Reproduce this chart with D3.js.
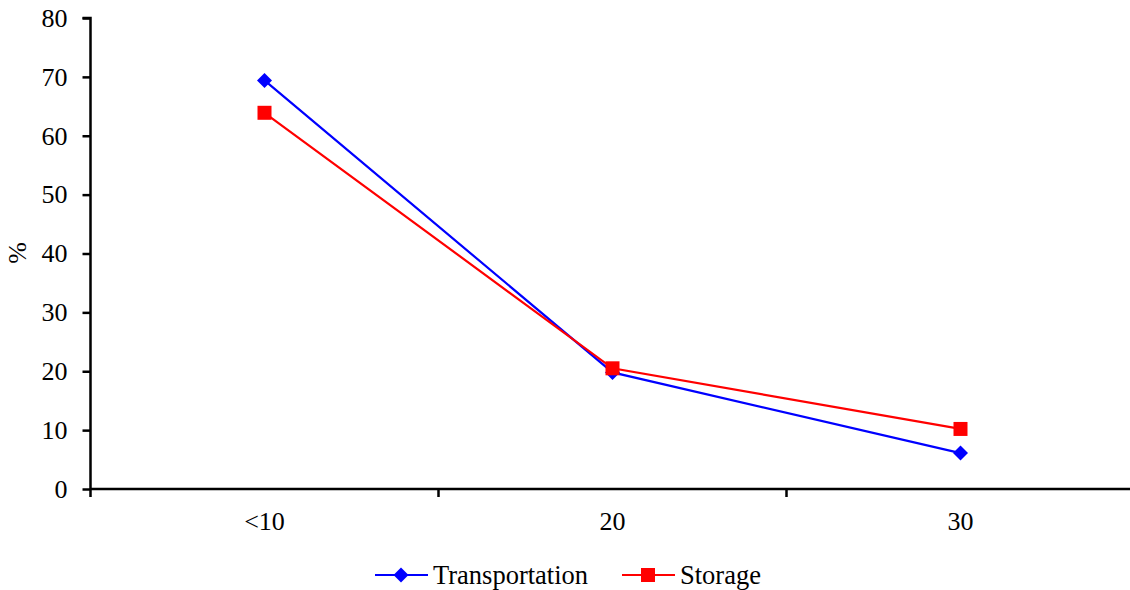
<!DOCTYPE html>
<html><head><meta charset="utf-8">
<script src="https://cdn.jsdelivr.net/npm/d3@7"></script>
<style>body{margin:0;background:#fff}svg{display:block}svg text{font-family:"Liberation Serif","Times New Roman",serif !important;fill:#000}</style>
</head><body><svg id="c" width="1130" height="590" style="font-family:'Liberation Serif',serif"></svg>
<script>
const categories = ["<10", "20", "30"];
const transportation = [69.4, 19.8, 6.1];
const storage = [63.9, 20.5, 10.2];
const yTicks = [0, 10, 20, 30, 40, 50, 60, 70, 80];
const seriesNames = ["Transportation", "Storage"];

const FS = 26;
const FF = "Liberation Serif";
const svg = d3.select("#c");
const x = d3.scaleBand().domain(categories).range([90.5, 1134.5]);
const y = d3.scaleLinear().domain([0, 80]).range([489, 18]);

// Y axis
const ya = svg.append("g").attr("transform", "translate(90.5,0)")
  .call(d3.axisLeft(y).tickValues(yTicks).tickSize(8).tickPadding(15));
ya.attr("font-size", FS).attr("font-family", FF);
ya.select(".domain").attr("stroke", "#000").attr("stroke-width", 2.5).attr("d", `M-8,${y(80)}H0V${y(0) + 8}`);
ya.selectAll(".tick line").attr("stroke", "#000").attr("stroke-width", 2.5);
ya.selectAll("text").attr("font-size", FS).attr("font-family", FF);

// X axis
const xa = svg.append("g").attr("transform", `translate(0,${y(0)})`);
xa.append("path").attr("d", `M90.5,0H1130`).attr("stroke", "#000").attr("stroke-width", 2.5);
const bounds = categories.map(c => x(c) + x.bandwidth());
xa.selectAll("line.tk").data(bounds.slice(0, 2)).join("line")
  .attr("x1", d => d).attr("x2", d => d).attr("y1", 0).attr("y2", 8)
  .attr("stroke", "#000").attr("stroke-width", 2.5);
xa.selectAll("text").data(categories).join("text")
  .attr("x", d => x(d) + x.bandwidth() / 2).attr("y", 41)
  .attr("text-anchor", "middle").attr("font-size", FS).attr("font-family", FF).text(d => d);

// Y label
svg.append("text").attr("transform", "translate(26,253) rotate(-90)")
  .attr("text-anchor", "middle").attr("font-size", FS).attr("font-family", FF).text("%");

const cx = c => x(c) + x.bandwidth() / 2;
const line = d3.line().x(d => cx(d.c)).y(d => y(d.v));
const sData = [
  {name: seriesNames[0], vals: transportation, color: "#0000ff", sym: "diamond"},
  {name: seriesNames[1], vals: storage, color: "#ff0000", sym: "square"}
];
const symFor = s => s === "diamond"
  ? "M0,-7.5L7.5,0L0,7.5L-7.5,0Z"
  : "M-7,-7H7V7H-7Z";

sData.forEach(s => {
  const pts = categories.map((c, i) => ({c, v: s.vals[i]}));
  svg.append("path").datum(pts).attr("d", line).attr("fill", "none")
    .attr("stroke", s.color).attr("stroke-width", 2.2);
  svg.selectAll(null).data(pts).join("path")
    .attr("transform", d => `translate(${cx(d.c)},${y(d.v)})`)
    .attr("d", symFor(s.sym)).attr("fill", s.color);
});

// Legend
const leg = [{x: 375}, {x: 622}];
sData.forEach((s, i) => {
  const g = svg.append("g").attr("transform", `translate(${leg[i].x},575)`);
  g.append("line").attr("x1", 0).attr("x2", 53).attr("stroke", s.color).attr("stroke-width", 2.2);
  g.append("path").attr("transform", "translate(26,0)").attr("d", symFor(s.sym)).attr("fill", s.color);
  g.append("text").attr("x", 58).attr("y", 9).attr("font-size", 26.5).attr("font-family", FF).text(s.name);
});
</script></body></html>
